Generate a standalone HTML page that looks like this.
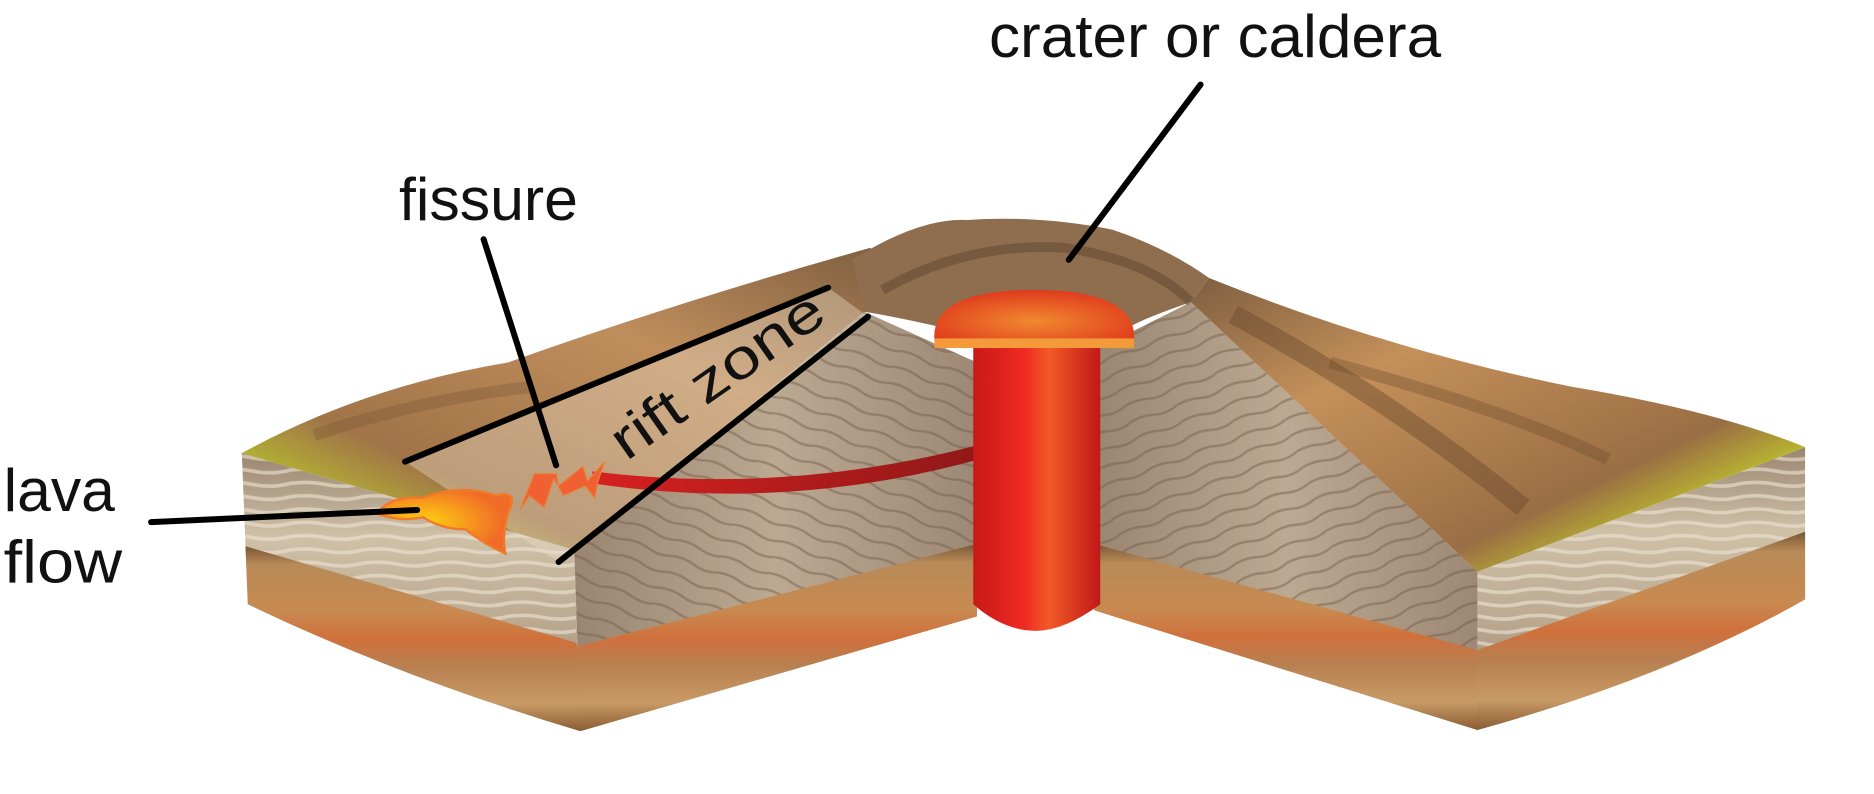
<!DOCTYPE html>
<html><head><meta charset="utf-8"><style>
html,body{margin:0;padding:0;background:#fff;}
svg{display:block;}
text{font-family:"Liberation Sans",sans-serif;fill:#111;}
</style></head><body>
<svg width="1874" height="794" viewBox="0 0 1550 657" preserveAspectRatio="none" xmlns="http://www.w3.org/2000/svg">
<defs>
<linearGradient id="band" x1="0" y1="0" x2="0" y2="1">
<stop offset="0" stop-color="#7a5634"/><stop offset="0.1" stop-color="#b88a58"/>
<stop offset="0.35" stop-color="#c88a50"/><stop offset="0.5" stop-color="#d0703c"/>
<stop offset="0.65" stop-color="#b88050"/><stop offset="0.85" stop-color="#c89a66"/><stop offset="1" stop-color="#8a5c32"/>
</linearGradient>
<linearGradient id="light" x1="0" y1="0" x2="0" y2="1">
<stop offset="0" stop-color="#9a8670"/><stop offset="0.3" stop-color="#cfc0a8"/>
<stop offset="0.6" stop-color="#bcaa92"/><stop offset="1" stop-color="#8e7a64"/>
</linearGradient>
<linearGradient id="inner" x1="0" y1="0" x2="1" y2="0">
<stop offset="0" stop-color="#9a8670"/><stop offset="0.5" stop-color="#bca992"/><stop offset="1" stop-color="#9c8874"/>
</linearGradient>
<linearGradient id="slopeL" x1="0" y1="1" x2="1" y2="0">
<stop offset="0" stop-color="#5e8c1e"/><stop offset="0.15" stop-color="#b4b432"/>
<stop offset="0.28" stop-color="#a07448"/><stop offset="0.65" stop-color="#c08e5c"/><stop offset="1" stop-color="#7e5e40"/>
</linearGradient>
<linearGradient id="slopeR" x1="1" y1="1" x2="0" y2="0">
<stop offset="0" stop-color="#5a8a1e"/><stop offset="0.2" stop-color="#bcbc2e"/>
<stop offset="0.32" stop-color="#9a6e44"/><stop offset="0.7" stop-color="#c4905a"/><stop offset="1" stop-color="#7e5e40"/>
</linearGradient>
<linearGradient id="conduit" x1="0" y1="0" x2="1" y2="0">
<stop offset="0" stop-color="#c81818"/><stop offset="0.4" stop-color="#ee2a22"/>
<stop offset="0.6" stop-color="#f25a28"/><stop offset="1" stop-color="#c01818"/>
</linearGradient>
<radialGradient id="dome" cx="0.5" cy="0.6" r="0.6">
<stop offset="0" stop-color="#f08a30"/><stop offset="1" stop-color="#e03a1c"/>
</radialGradient>
<radialGradient id="lava" cx="0.35" cy="0.5" r="0.6">
<stop offset="0" stop-color="#ffd010"/><stop offset="1" stop-color="#f06a28"/>
</radialGradient>
<linearGradient id="dike" x1="0" y1="0" x2="1" y2="0">
<stop offset="0" stop-color="#d82020"/><stop offset="1" stop-color="#901818"/>
</linearGradient>
<pattern id="stripes" width="40" height="14" patternUnits="userSpaceOnUse" patternTransform="rotate(-20)">
<path d="M0 4 Q10 2 20 5 T40 4" stroke="#6e5a46" stroke-width="2" fill="none" opacity="0.45"/>
</pattern>
<pattern id="stripes2" width="40" height="14" patternUnits="userSpaceOnUse" patternTransform="rotate(20)">
<path d="M0 4 Q10 2 20 5 T40 4" stroke="#6e5a46" stroke-width="2" fill="none" opacity="0.45"/>
</pattern>
<pattern id="hstripes" width="60" height="11" patternUnits="userSpaceOnUse">
<path d="M0 4 Q15 2 30 5 T60 4" stroke="#efe4d4" stroke-width="3" fill="none" opacity="0.6"/>
</pattern>
</defs>

<!-- left block front face -->
<path d="M200 375 L475 455 L480 605 Q330 560 205 500 Z" fill="url(#light)"/>
<path d="M200 375 L475 455 L477 535 L203 455 Z" fill="url(#hstripes)"/>
<path d="M203 452 L477 532 L480 605 Q330 560 205 500 Z" fill="url(#band)"/>
<!-- inner left cut face -->
<path d="M475 455 L715 258 L808 300 L808 510 L480 605 Z" fill="url(#inner)"/>
<path d="M475 455 L715 258 L808 300 L808 510 L480 605 Z" fill="url(#stripes2)"/>
<path d="M477 535 L808 450 L808 510 L480 605 Z" fill="url(#band)"/>
<!-- inner right cut face -->
<path d="M905 290 L985 250 L1222 473 L1222 604 L905 505 Z" fill="url(#inner)"/>
<path d="M905 290 L985 250 L1222 473 L1222 604 L905 505 Z" fill="url(#stripes)"/>
<path d="M905 450 L1222 538 L1222 604 L905 505 Z" fill="url(#band)"/>
<!-- right block front face -->
<path d="M1222 473 L1493 370 L1493 496 Q1380 560 1222 604 Z" fill="url(#light)"/>
<path d="M1222 473 L1493 370 L1493 440 L1222 538 Z" fill="url(#hstripes)"/>
<path d="M1222 538 L1493 440 L1493 496 Q1380 560 1222 604 Z" fill="url(#band)"/>
<!-- top left slope -->
<path d="M200 375 Q300 320 420 300 Q560 250 720 205 L735 250 L715 258 L475 455 Z" fill="url(#slopeL)"/>
<path d="M260 360 Q350 330 440 320" stroke="#7a5636" stroke-width="10" fill="none" opacity="0.35"/>
<!-- crater region -->
<path d="M705 215 Q760 180 800 182 Q860 178 920 190 Q965 205 1000 230 L985 250 Q950 262 935 270 L775 270 Q740 262 715 258 Z" fill="#8e6e4e"/>
<path d="M730 240 Q800 200 880 205 Q950 215 985 250" stroke="#5e4430" stroke-width="8" fill="none" opacity="0.5"/>
<!-- top right slope -->
<path d="M1000 230 Q1150 290 1300 320 Q1420 340 1493 370 L1222 473 L985 250 Z" fill="url(#slopeR)"/>
<path d="M1020 260 Q1150 330 1260 420" stroke="#6a4a2c" stroke-width="16" fill="none" opacity="0.45"/>
<path d="M1100 300 Q1250 340 1330 380" stroke="#6a4a2c" stroke-width="10" fill="none" opacity="0.35"/>
<!-- rift zone translucent band -->
<path d="M335 382 L685 238 L718 262 L462 465 Z" fill="#e8dcc8" opacity="0.4"/>
<!-- dike -->
<path d="M490 390 Q650 410 810 368 L810 380 Q650 424 490 400 Z" fill="url(#dike)"/>
<!-- conduit -->
<path d="M805 285 L910 285 L910 500 Q880 522 857 522 Q830 522 805 500 Z" fill="url(#conduit)"/>
<path d="M773 283 Q768 240 855 240 Q942 240 938 283 Z" fill="url(#dome)"/>
<rect x="773" y="280" width="165" height="8" fill="#f49a3a"/>
<!-- fissure -->
<path d="M442 392 L460 392 L462 402 L482 386 L486 398 L500 382 L494 400 L492 412 L484 402 L466 410 L458 396 L450 420 L438 410 L430 422 Z" fill="#f06030" stroke="#e8803a" stroke-width="1"/>
<!-- lava flow -->
<path d="M312 425 Q322 410 350 412 Q380 400 410 410 Q430 405 420 425 Q415 445 418 458 Q400 450 385 438 Q365 438 350 428 Q330 432 312 425 Z" fill="url(#lava)" stroke="#f07a28" stroke-width="2"/>
<!-- leader lines -->
<g stroke="#000" stroke-width="5" stroke-linecap="round" fill="none">
<line x1="993" y1="70" x2="884" y2="215"/>
<line x1="400" y1="198" x2="460" y2="385"/>
<line x1="125" y1="432" x2="345" y2="422"/>
<line x1="335" y1="382" x2="685" y2="238"/>
<line x1="462" y1="465" x2="718" y2="262"/>
</g>
<!-- labels -->
<text x="818" y="47" font-size="50" textLength="374" lengthAdjust="spacingAndGlyphs">crater or caldera</text>
<text x="330" y="182" font-size="50" textLength="148" lengthAdjust="spacingAndGlyphs">fissure</text>
<text x="3" y="423" font-size="50" textLength="92" lengthAdjust="spacingAndGlyphs">lava</text>
<text x="3" y="482" font-size="50" textLength="98" lengthAdjust="spacingAndGlyphs">flow</text>
<text x="0" y="0" font-size="46" textLength="205" lengthAdjust="spacingAndGlyphs" transform="translate(518,382) rotate(-35)">rift zone</text>
</svg>
</body></html>
